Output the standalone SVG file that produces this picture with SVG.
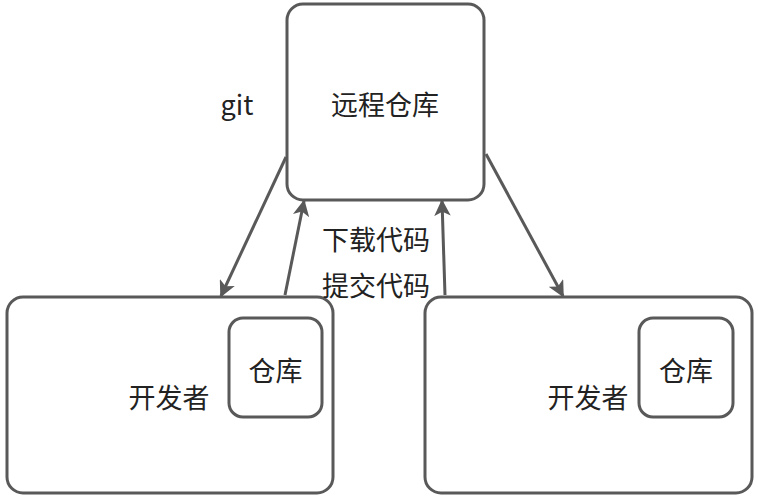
<svg xmlns="http://www.w3.org/2000/svg" width="758" height="498" viewBox="0 0 758 498">
<style>
.box{fill:#fff;stroke:#595959;stroke-width:3}
.t{font-family:"Microsoft YaHei","Noto Sans CJK SC","Noto Sans",sans-serif;font-size:27px;fill:#222;text-anchor:middle;dominant-baseline:central}
.c{stroke:#595959;stroke-width:3;fill:none;marker-end:url(#ah)}
</style>
<defs>
<marker id="ah" viewBox="0 0 10 10" refX="9" refY="5" markerWidth="5.5" markerHeight="5.5" orient="auto" markerUnits="strokeWidth">
<path d="M0,0 L10,5 L0,10 L2.5,5 Z" fill="#595959"/>
</marker>
</defs>
<rect width="758" height="498" fill="#fff"/>
<g id="remote">
<rect class="box" x="287" y="4" width="197" height="196" rx="16"/>
<text class="t" x="385" y="103">远程仓库</text>
</g>
<g id="dev1">
<rect class="box" x="7" y="297" width="326" height="196" rx="16"/>
<text class="t" x="169" y="396">开发者</text>
</g>
<g id="repo1">
<rect class="box" x="229" y="318" width="93" height="99" rx="14"/>
<text class="t" x="275.5" y="369">仓库</text>
</g>
<g id="dev2">
<rect class="box" x="425" y="297" width="327" height="196" rx="16"/>
<text class="t" x="588" y="396">开发者</text>
</g>
<g id="repo2">
<rect class="box" x="639" y="318" width="94" height="99" rx="14"/>
<text class="t" x="686" y="369">仓库</text>
</g>
<g id="connectors">
<path class="c" d="M286,157 L221,296"/>
<path class="c" d="M285,295 L304,201"/>
<path class="c" d="M445,295 L442,201"/>
<path class="c" d="M486,154 L563,296"/>
</g>
<g id="labels">
<text class="t" x="237" y="103">git</text>
<text class="t" x="376" y="238">下载代码</text>
<text class="t" x="376" y="284">提交代码</text>
</g>
</svg>
